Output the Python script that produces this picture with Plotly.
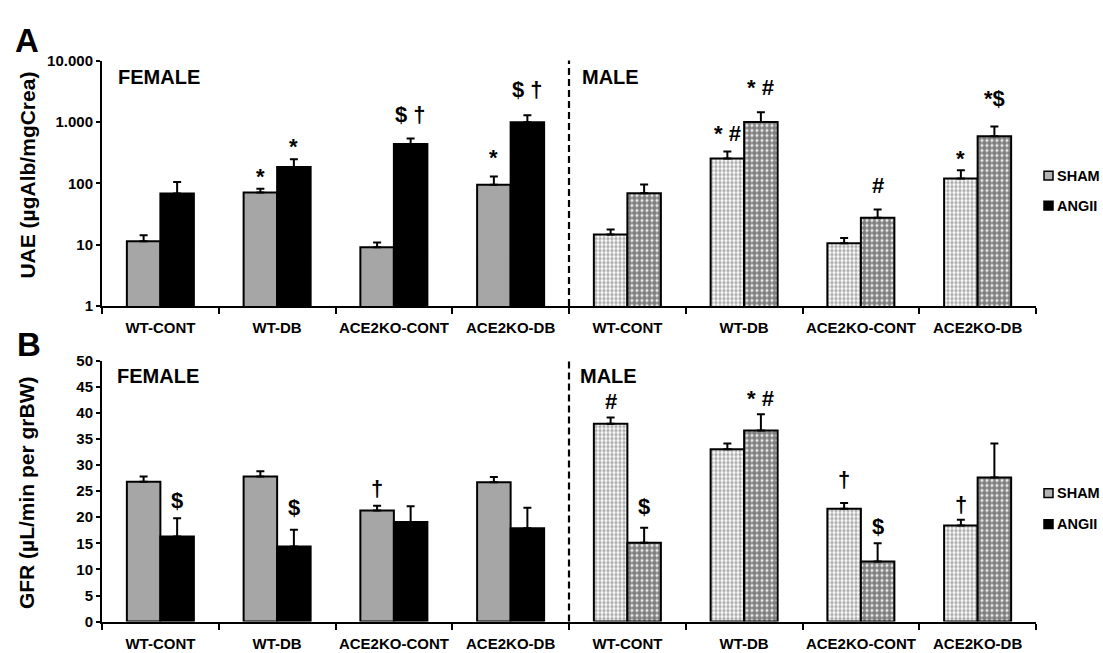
import numpy as np
import plotly.graph_objects as go

W, H = 1103, 653
FONT = "Liberation Sans, Arial, Helvetica, sans-serif"

# ---- data -------------------------------------------------------------
groups = ["WT-CONT", "WT-DB", "ACE2KO-CONT", "ACE2KO-DB"]
sexes = ["FEMALE", "MALE"]
treatments = ["SHAM", "ANGII"]
tick_labels = groups + groups

# A: urinary albumin excretion, µgAlb/mgCrea (mean and upper SEM)
uae_female_sham = [11.4, 71, 9.1, 95]
uae_female_sham_err = [2.8, 11, 1.8, 34]
uae_female_angii = [68, 184, 437, 988]
uae_female_angii_err = [37, 62, 100, 300]
uae_male_sham = [14.6, 255, 10.6, 120]
uae_male_sham_err = [3.1, 75, 2.2, 43]
uae_male_angii = [69, 1000, 27.5, 585]
uae_male_angii_err = [27, 440, 10, 260]

# B: glomerular filtration rate, µL/min per grBW
gfr_female_sham = [26.8, 27.8, 21.3, 26.7]
gfr_female_sham_err = [1.0, 1.0, 0.9, 1.0]
gfr_female_angii = [16.3, 14.4, 19.1, 17.9]
gfr_female_angii_err = [3.5, 3.2, 3.0, 3.9]
gfr_male_sham = [37.9, 33.0, 21.6, 18.4]
gfr_male_sham_err = [1.2, 1.1, 1.1, 1.1]
gfr_male_angii = [15.1, 36.6, 11.5, 27.6]
gfr_male_angii_err = [2.9, 3.1, 3.5, 6.5]

uae_ticks = [1, 10, 100, 1000, 10000]
uae_tick_text = ["1", "10", "100", "1.000", "10.000"]

# significance marks: (panel, sex, group, treatment, text, pixel lift above error bar)
marks = [
    ("A", "FEMALE", "WT-DB", "SHAM", "*", 12),
    ("A", "FEMALE", "WT-DB", "ANGII", "*", 13),
    ("A", "FEMALE", "ACE2KO-CONT", "ANGII", "$ †", 24),
    ("A", "FEMALE", "ACE2KO-DB", "SHAM", "*", 19),
    ("A", "FEMALE", "ACE2KO-DB", "ANGII", "$ †", 26),
    ("A", "MALE", "WT-DB", "SHAM", "* #", 18),
    ("A", "MALE", "WT-DB", "ANGII", "* #", 25),
    ("A", "MALE", "ACE2KO-CONT", "ANGII", "#", 24),
    ("A", "MALE", "ACE2KO-DB", "SHAM", "*", 12),
    ("A", "MALE", "ACE2KO-DB", "ANGII", "*$", 28),
    ("B", "FEMALE", "WT-CONT", "ANGII", "$", 18),
    ("B", "FEMALE", "WT-DB", "ANGII", "$", 22),
    ("B", "FEMALE", "ACE2KO-CONT", "SHAM", "†", 17),
    ("B", "MALE", "WT-CONT", "SHAM", "#", 16),
    ("B", "MALE", "WT-CONT", "ANGII", "$", 21),
    ("B", "MALE", "WT-DB", "ANGII", "* #", 16),
    ("B", "MALE", "ACE2KO-CONT", "SHAM", "†", 24),
    ("B", "MALE", "ACE2KO-CONT", "ANGII", "$", 17),
    ("B", "MALE", "ACE2KO-DB", "SHAM", "†", 15),
]

# ---- geometry (pixels -> paper fractions) ------------------------------
def px(x):
    return x / W


def py(y):
    return 1 - y / H


X_DOM = [px(102), px(1036)]
A_DOM = [py(305), py(53)]
B_DOM = [py(629), py(361)]

BARGAP = 0.426
HALF = (1 - BARGAP) / 4  # centre offset of each bar in a pair

panels = {
    "A": dict(xa="x", ya="y", data={
        ("FEMALE", "SHAM"): (uae_female_sham, uae_female_sham_err),
        ("FEMALE", "ANGII"): (uae_female_angii, uae_female_angii_err),
        ("MALE", "SHAM"): (uae_male_sham, uae_male_sham_err),
        ("MALE", "ANGII"): (uae_male_angii, uae_male_angii_err),
    }, log=True),
    "B": dict(xa="x2", ya="y2", data={
        ("FEMALE", "SHAM"): (gfr_female_sham, gfr_female_sham_err),
        ("FEMALE", "ANGII"): (gfr_female_angii, gfr_female_angii_err),
        ("MALE", "SHAM"): (gfr_male_sham, gfr_male_sham_err),
        ("MALE", "ANGII"): (gfr_male_angii, gfr_male_angii_err),
    }, log=False),
}

styles = {
    ("FEMALE", "SHAM"): dict(color="#a6a6a6"),
    ("FEMALE", "ANGII"): dict(color="black"),
    ("MALE", "SHAM"): dict(color="white", pattern=dict(shape=".", fgcolor="#5a5a5a",
                                                       bgcolor="white", size=4, solidity=0.55)),
    ("MALE", "ANGII"): dict(color="white", pattern=dict(shape=".", fgcolor="black",
                                                        bgcolor="white", size=5, solidity=0.78)),
}


def positions(sex):
    start = sexes.index(sex) * len(groups)
    return [start + i for i in range(len(groups))]


fig = go.Figure()
for name, p in panels.items():
    for (sex, trt), (vals, errs) in p["data"].items():
        st = styles[(sex, trt)]
        marker = dict(color=st["color"], line=dict(color="black", width=2))
        if "pattern" in st:
            marker["pattern"] = st["pattern"]
        fig.add_trace(go.Bar(
            x=positions(sex), y=vals, name=trt, offsetgroup=trt,
            xaxis=p["xa"], yaxis=p["ya"], marker=marker,
            error_y=dict(type="data", symmetric=False, array=errs,
                         arrayminus=[0] * len(errs), color="black",
                         thickness=2, width=4),
            showlegend=False, hoverinfo="skip",
        ))

# significance symbols above the error bars
for panel, sex, grp, trt, text, lift in marks:
    p = panels[panel]
    vals, errs = p["data"][(sex, trt)]
    i = groups.index(grp)
    top = vals[i] + errs[i]
    xpos = positions(sex)[i] + (-HALF if trt == "SHAM" else HALF)
    fig.add_annotation(
        x=xpos, y=np.log10(top) if p["log"] else top,
        xref=p["xa"], yref=p["ya"], text=text, showarrow=False,
        yanchor="middle", yshift=lift,
        font=dict(family=FONT, size=22, color="black", weight="bold"),
    )

# ---- axes --------------------------------------------------------------
boundaries = [k - 0.5 for k in range(len(tick_labels) + 1)]
xcommon = dict(
    domain=X_DOM, range=[-0.5, len(tick_labels) - 0.5],
    tickmode="array", tickvals=list(range(len(tick_labels))), ticktext=tick_labels,
    ticks="", showline=True, linecolor="black", linewidth=2,
    showgrid=False, zeroline=False, ticklabelstandoff=7,
    tickfont=dict(family=FONT, size=15, color="black", weight="bold"),
    minor=dict(tickmode="array", tickvals=boundaries, ticks="outside",
               ticklen=6, tickwidth=2, tickcolor="black", showgrid=False),
    fixedrange=True,
)
ycommon = dict(
    ticks="outside", ticklen=4, tickwidth=2, tickcolor="black",
    showline=True, linecolor="black", linewidth=2, showgrid=False,
    zeroline=False, tickfont=dict(family=FONT, size=15, color="black", weight="bold"),
    fixedrange=True,
)

fig.update_layout(
    xaxis=dict(anchor="y", **xcommon),
    xaxis2=dict(anchor="y2", **xcommon),
    yaxis=dict(anchor="x", domain=A_DOM, type="log", range=[0, 4],
               tickmode="array", tickvals=uae_ticks, ticktext=uae_tick_text, **ycommon),
    yaxis2=dict(anchor="x2", domain=B_DOM, range=[0, 50], tickmode="linear",
                tick0=0, dtick=5, **ycommon),
)

# dashed divider between female and male groups
divider = len(groups) - 0.5
for xa, ya in (("x", "y"), ("x2", "y2")):
    fig.add_shape(type="line", xref=xa, yref=f"{ya} domain", x0=divider, x1=divider,
                  y0=0, y1=1, line=dict(color="black", width=2.2, dash="7px,4px"))

# ---- texts -------------------------------------------------------------
def text(x, y, s, size, **kw):
    fig.add_annotation(x=px(x), y=py(y), xref="paper", yref="paper", text=s,
                       showarrow=False, font=dict(family=FONT, size=size, color="black",
                                                  weight="bold"), **kw)


text(13, 32, "A", 33, xanchor="left", yanchor="middle")
text(15, 344, "B", 33, xanchor="left", yanchor="middle")
text(116, 70, sexes[0], 20, xanchor="left", yanchor="middle")
text(580, 70, sexes[1], 20, xanchor="left", yanchor="middle")
text(115, 377, sexes[0], 20, xanchor="left", yanchor="middle")
text(578, 377, sexes[1], 20, xanchor="left", yanchor="middle")
text(28, 171, "UAE (µgAlb/mgCrea)", 21, textangle=-90, xanchor="center", yanchor="middle")
text(26, 497, "GFR (µL/min per grBW)", 21, textangle=-90, xanchor="center", yanchor="middle")

# legends (one per panel)
legend_fill = {"SHAM": "#b3b3b3", "ANGII": "black"}
for ys in ((171, 202), (497, 529)):
    for trt, yc in zip(treatments, ys):
        fig.add_shape(type="rect", xref="paper", yref="paper",
                      x0=px(1044), x1=px(1053), y0=py(yc + 4.5), y1=py(yc - 4.5),
                      fillcolor=legend_fill[trt], line=dict(color="black", width=1.5))
        text(1055, yc, trt, 14.5, xanchor="left", yanchor="middle")

fig.update_layout(
    width=W, height=H, margin=dict(l=0, r=0, t=0, b=0),
    plot_bgcolor="white", paper_bgcolor="white",
    barmode="group", bargap=BARGAP, bargroupgap=0,
    font=dict(family=FONT, color="black"), showlegend=False,
)

fig.write_html("out.html")
